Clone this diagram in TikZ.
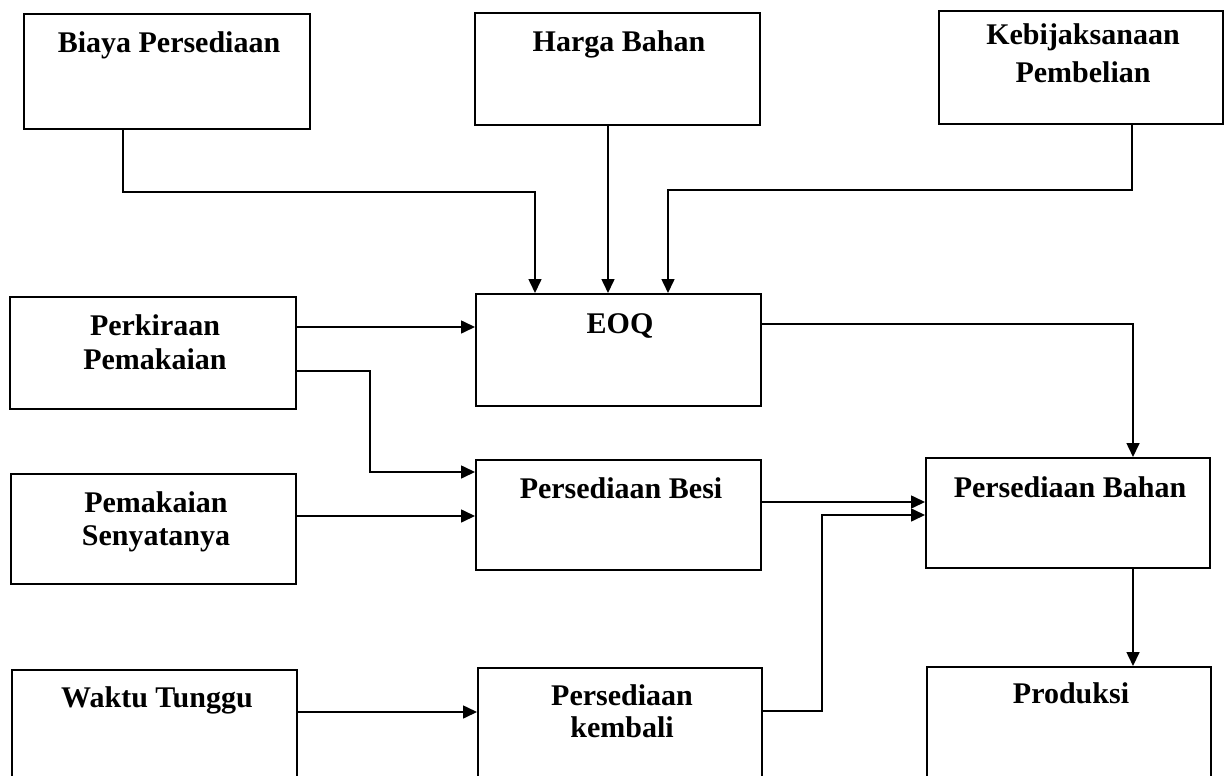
\documentclass[tikz,border=0pt]{standalone}
\usepackage{fontspec}
\setmainfont{Liberation Serif}
\usetikzlibrary{arrows.meta}
\begin{document}
\begin{tikzpicture}[x=0.5pt,y=-0.5pt,
  box/.style={draw,line width=0.9pt,inner sep=0pt,anchor=north west},
  lbl/.style={anchor=base,inner sep=0pt,font=\fontsize{15}{17}\selectfont\bfseries},
  arr/.style={line width=0.8pt,-{Triangle[length=7pt,width=6.5pt]}}]
\useasboundingbox (0,0) rectangle (1229,775);
\clip (0,0) rectangle (1229,775);
\fill[white] (0,0) rectangle (1229,775);
% boxes
\node[box,minimum width=143pt,minimum height=57.5pt] (biaya) at (23,13) {};
\node[box,minimum width=142.5pt,minimum height=56pt] (harga) at (474,12) {};
\node[box,minimum width=142pt,minimum height=56.5pt] (kebij) at (938,10) {};
\node[box,minimum width=143pt,minimum height=56pt] (perk) at (9,296) {};
\node[box,minimum width=142.5pt,minimum height=56pt] (eoq) at (475,293) {};
\node[box,minimum width=142.5pt,minimum height=55pt] (pemak) at (10,473) {};
\node[box,minimum width=142.5pt,minimum height=55pt] (besi) at (475,459) {};
\node[box,minimum width=142pt,minimum height=55pt] (bahan) at (925,457) {};
\node[box,minimum width=142.5pt,minimum height=60.5pt] (waktu) at (11,669) {};
\node[box,minimum width=142pt,minimum height=61.5pt] (kembali) at (477,667) {};
\node[box,minimum width=142pt,minimum height=62pt] (produksi) at (926,666) {};
% texts
\node[lbl] (biaya-t) at (169,53) {Biaya Persediaan};
\node[lbl] (harga-t) at (619,52) {Harga Bahan};
\node[lbl] (kebij-t1) at (1083,45) {Kebijaksanaan};
\node[lbl] (kebij-t2) at (1083,83) {Pembelian};
\node[lbl] (perk-t1) at (155,335) {Perkiraan};
\node[lbl] (perk-t2) at (155,369) {Pemakaian};
\node[lbl] (eoq-t) at (620,333) {EOQ};
\node[lbl] (pemak-t1) at (156,512) {Pemakaian};
\node[lbl] (pemak-t2) at (156,545) {Senyatanya};
\node[lbl] (besi-t) at (621,498) {Persediaan Besi};
\node[lbl] (bahan-t) at (1070,497) {Persediaan Bahan};
\node[lbl] (waktu-t) at (157,707) {Waktu Tunggu};
\node[lbl] (kembali-t1) at (622,705) {Persediaan};
\node[lbl] (kembali-t2) at (622,737) {kembali};
\node[lbl] (produksi-t) at (1071,703) {Produksi};
% connectors
\draw[arr] (biaya.south -| 123,0) |- (535,192) -- (eoq.north -| 535,0);
\draw[arr] (harga.south -| 608,0) -- (eoq.north -| 608,0);
\draw[arr] (kebij.south -| 1132,0) |- (668,190) -- (eoq.north -| 668,0);
\draw[arr] (perk.east |- 0,327) -- (eoq.west |- 0,327);
\draw[arr] (perk.east |- 0,371) -| (370,472) -- (besi.west |- 0,472);
\draw[arr] (pemak.east |- 0,516) -- (besi.west |- 0,516);
\draw[arr] (eoq.east |- 0,324) -| (bahan.north -| 1133,0);
\draw[arr] (besi.east |- 0,502) -- (bahan.west |- 0,502);
\draw[arr] (kembali.east |- 0,711) -| (822,515) -- (bahan.west |- 0,515);
\draw[arr] (waktu.east |- 0,712) -- (kembali.west |- 0,712);
\draw[arr] (bahan.south -| 1133,0) -- (produksi.north -| 1133,0);
\end{tikzpicture}
\end{document}
